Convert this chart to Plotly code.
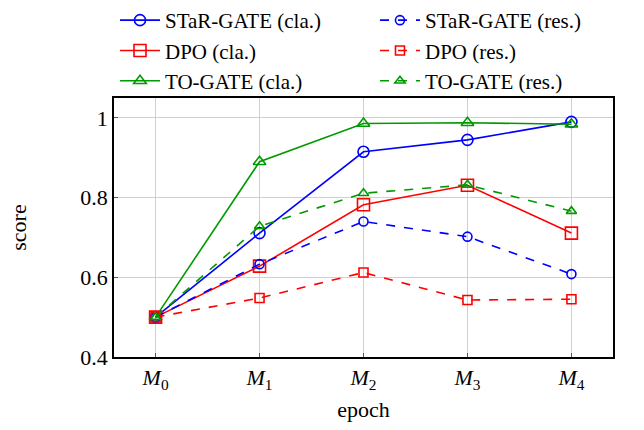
import plotly.graph_objects as go

epochs = [0, 1, 2, 3, 4]
tick_labels = ["<i>M</i><sub>0</sub>", "<i>M</i><sub>1</sub>", "<i>M</i><sub>2</sub>",
               "<i>M</i><sub>3</sub>", "<i>M</i><sub>4</sub>"]

star_cla = [0.50, 0.711, 0.915, 0.945, 0.99]
star_res = [0.50, 0.633, 0.740, 0.702, 0.608]
dpo_cla = [0.50, 0.628, 0.782, 0.831, 0.711]
dpo_res = [0.50, 0.548, 0.612, 0.543, 0.545]
to_cla = [0.50, 0.890, 0.986, 0.988, 0.984]
to_res = [0.50, 0.728, 0.811, 0.832, 0.766]

BLUE = "#0000ff"
RED = "#ff0000"
GREEN = "#009900"

series = [
    ("STaR-GATE (cla.)", star_cla, BLUE, "circle-open", "solid", 11, "legend"),
    ("DPO (cla.)", dpo_cla, RED, "square-open", "solid", 12, "legend"),
    ("TO-GATE (cla.)", to_cla, GREEN, "triangle-up-open", "solid", 11, "legend"),
    ("STaR-GATE (res.)", star_res, BLUE, "circle-open", "dash", 9, "legend2"),
    ("DPO (res.)", dpo_res, RED, "square-open", "dash", 9, "legend2"),
    ("TO-GATE (res.)", to_res, GREEN, "triangle-up-open", "dash", 9, "legend2"),
]

fig = go.Figure()
for name, vals, color, sym, dash, size, leg in series:
    fig.add_trace(go.Scatter(
        x=epochs, y=vals, name=name, mode="lines+markers", legend=leg,
        line=dict(color=color, width=1.6, dash=dash),
        marker=dict(symbol=sym, size=size, color=color, line=dict(width=1.6, color=color)),
    ))

font_family = "Liberation Serif, Times New Roman, serif"
leg_common = dict(
    orientation="v", yref="container", y=1.035, yanchor="top", xanchor="left",
    font=dict(size=21, family=font_family), bgcolor="rgba(0,0,0,0)",
    itemwidth=40, traceorder="normal",
)
fig.update_layout(
    width=644, height=430,
    margin=dict(l=114, r=31, t=98, b=73, autoexpand=False),
    plot_bgcolor="white", paper_bgcolor="white",
    font=dict(family=font_family, color="black", size=22),
    showlegend=True,
    legend=dict(x=0.002, **leg_common),
    legend2=dict(x=0.523, **leg_common),
    xaxis=dict(
        range=[-0.4, 4.4], tickvals=epochs, ticktext=tick_labels,
        showgrid=True, gridcolor="#d0d0d0", gridwidth=1,
        showline=True, linecolor="black", linewidth=1.5, mirror=True,
        ticks="inside", ticklen=4, tickcolor="#555555",
        tickfont=dict(size=22),
        title=dict(text="epoch", font=dict(size=22), standoff=10),
        zeroline=False,
    ),
    yaxis=dict(
        range=[0.4, 1.05], tickvals=[0.4, 0.6, 0.8, 1.0], ticktext=["0.4", "0.6", "0.8", "1"],
        showgrid=True, gridcolor="#d0d0d0", gridwidth=1,
        showline=True, linecolor="black", linewidth=1.5, mirror=True,
        ticks="inside", ticklen=4, tickcolor="#555555",
        tickfont=dict(size=22),
        title=dict(text="score", font=dict(size=22), standoff=48),
        zeroline=False,
    ),
)

fig.write_html("out.html", config={"displayModeBar": False},
               post_script="document.body.style.margin='0';")
